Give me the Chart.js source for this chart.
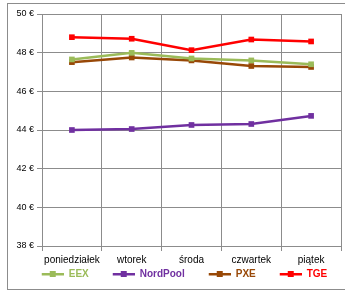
<!DOCTYPE html>
<html>
<head>
<meta charset="utf-8">
<script src="https://cdn.jsdelivr.net/npm/chart.js@4/dist/chart.umd.min.js"></script>
<style>
  body { margin: 0; background: #fff; }
  .wrapper { position: absolute; left: 7px; top: 3px; width: 345px; height: 287px; border: 1px solid #8c8c8c; box-sizing: border-box; }
  canvas { position: absolute; left: -8px; top: -4px; }
</style>
</head>
<body>
<div class="wrapper"><canvas id="chart" width="345" height="294"></canvas></div>
<script>
const days = ["poniedziałek", "wtorek", "środa", "czwartek", "piątek"];
const eex = [47.65, 47.99, 47.7, 47.6, 47.4];
const nordPool = [44.0, 44.05, 44.26, 44.31, 44.73];
const pxe = [47.51, 47.75, 47.6, 47.31, 47.26];
const tge = [48.8, 48.72, 48.13, 48.68, 48.58];

const $chart = document.querySelector("#chart");

// legend mark: empty gap on the left, then line with a square
function legendMark(color)
{
  let c = document.createElement("canvas");
  c.width = 46;
  c.height = 8;
  let ctx = c.getContext("2d");
  ctx.fillStyle = color;
  ctx.fillRect(24, 3, 22, 2.5);
  ctx.fillRect(32, 1, 6, 6);
  return c;
}

function series(label, values, color)
{
  return {
    label: label,
    data: values,
    borderColor: color,
    backgroundColor: color,
    borderWidth: 2.5,
    pointStyle: "rect",
    pointRadius: 4,
    pointBorderWidth: 0,
    tension: 0,
    mark: legendMark(color)
  };
}

new Chart($chart, {
  type: "line",
  data: {
    labels: days,
    datasets: [
      series("EEX", eex, "#9bbb59"),
      series("NordPool", nordPool, "#7030a0"),
      series("PXE", pxe, "#984807"),
      series("TGE", tge, "#ff0000")
    ]
  },
  options: {
    responsive: false,
    animation: false,
    layout: { padding: { left: 0, right: 0, top: 14, bottom: 5 } },
    plugins: {
      tooltip: { enabled: false },
      legend: {
        position: "bottom",
        labels: {
          usePointStyle: true,
          pointStyleWidth: 46,
          padding: 0,
          boxHeight: 8,
          font: { family: "Liberation Sans", size: 10, weight: "bold" },
          generateLabels: function (chart)
          {
            return chart.data.datasets.map((ds, i) => ({
              text: ds.label,
              fontColor: ds.borderColor,
              pointStyle: ds.mark,
              fillStyle: ds.borderColor,
              strokeStyle: ds.borderColor,
              lineWidth: 0,
              datasetIndex: i,
              hidden: false
            }));
          }
        }
      }
    },
    scales: {
      x: {
        offset: true,
        grid: { offset: true, color: "#8c8c8c", tickLength: 5 },
        border: { color: "#8c8c8c" },
        ticks: { color: "#000", font: { family: "Liberation Sans", size: 10 }, maxRotation: 0, padding: 3 }
      },
      y: {
        min: 38,
        max: 50,
        afterFit: function (scale) { scale.width = 42; },
        grid: { color: "#8c8c8c", tickLength: 5 },
        border: { color: "#8c8c8c" },
        ticks: {
          stepSize: 2,
          color: "#000",
          font: { family: "Liberation Sans", size: 9 },
          callback: v => v + " €"
        }
      }
    }
  }
});
</script>
</body>
</html>
